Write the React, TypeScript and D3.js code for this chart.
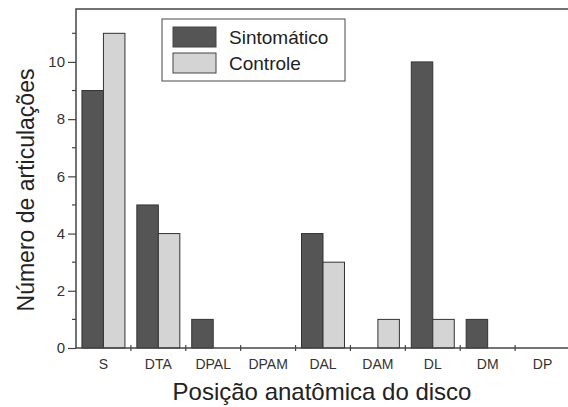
import React, { useEffect, useRef } from "react";
import * as d3 from "d3";

const categories = ["S", "DTA", "DPAL", "DPAM", "DAL", "DAM", "DL", "DM", "DP"];
const series = ["Sintomático", "Controle"];
const sintomatico = [9, 5, 1, 0, 4, 0, 10, 1, 0];
const controle = [11, 4, 0, 0, 3, 1, 1, 0, 0];
const yTicks = [0, 2, 4, 6, 8, 10];
const yMinorTicks = [1, 3, 5, 7, 9, 11];

const colors: Record<string, string> = { "Sintomático": "#555555", Controle: "#d4d4d4" };
const FONT = "'Liberation Sans', Arial, sans-serif";

export default function App() {
  const svgRef = useRef<SVGSVGElement>(null);

  useEffect(() => {
    const svg = d3.select(svgRef.current);
    svg.selectAll("*").remove();

    const left = 76, top = 9, bottom = 348, right = 570;

    const x0 = d3.scaleBand().domain(categories).range([left, right]).paddingInner(0);
    const x1 = d3.scaleBand().domain(series).range([0, x0.bandwidth()]).paddingOuter(0.277);
    const y = d3.scaleLinear().domain([0, 11.85]).range([bottom, top]);

    const rows = categories.map((c, i) => ({ cat: c, values: [sintomatico[i], controle[i]] }));

    // bars
    const g = svg.append("g");
    rows.forEach(r => {
      r.values.forEach((v, j) => {
        if (v <= 0) return;
        g.append("rect")
          .attr("x", x0(r.cat)! + x1(series[j])!)
          .attr("y", y(v))
          .attr("width", x1.bandwidth())
          .attr("height", y(0) - y(v))
          .attr("fill", colors[series[j]])
          .attr("stroke", "#333")
          .attr("stroke-width", 1);
      });
    });

    // frame
    svg.append("path")
      .attr("d", `M${left},${bottom}V${top}H${right}`)
      .attr("fill", "none").attr("stroke", "#444").attr("stroke-width", 1.5);
    svg.append("line")
      .attr("x1", left).attr("x2", right).attr("y1", bottom).attr("y2", bottom)
      .attr("stroke", "#444").attr("stroke-width", 1.5);

    // y axis
    const yAxis = d3.axisLeft(y).tickValues(yTicks).tickSize(8).tickPadding(3).tickFormat(d3.format("d"));
    const ya = svg.append("g").attr("transform", `translate(${left},0)`).call(yAxis);
    ya.select(".domain").remove();
    ya.selectAll("line").attr("stroke", "#444").attr("stroke-width", 1.2);
    ya.selectAll("text").attr("font-family", FONT).attr("font-size", 15).attr("fill", "#333");
    svg.append("g").selectAll("line").data(yMinorTicks).join("line")
      .attr("x1", left - 4).attr("x2", left).attr("y1", d => y(d)).attr("y2", d => y(d))
      .attr("stroke", "#444").attr("stroke-width", 1.2);

    // x axis ticks at band boundaries
    const bounds = categories.slice(1).map(c => x0(c)!);
    svg.append("g").selectAll("line").data(bounds).join("line")
      .attr("x1", d => d).attr("x2", d => d).attr("y1", bottom - 3).attr("y2", bottom + 3)
      .attr("stroke", "#444").attr("stroke-width", 1.2);
    svg.append("g").selectAll("text").data(categories).join("text")
      .attr("x", d => x0(d)! + x0.bandwidth() / 2)
      .attr("y", bottom + 21)
      .attr("text-anchor", "middle")
      .attr("font-family", FONT).attr("font-size", 14).attr("fill", "#333")
      .text(d => d);

    // axis titles
    svg.append("text")
      .attr("x", 322).attr("y", 400)
      .attr("text-anchor", "middle")
      .attr("font-family", FONT).attr("font-size", 24).attr("fill", "#222")
      .text("Posição anatômica do disco");
    svg.append("text")
      .attr("transform", `translate(34,190) rotate(-90)`)
      .attr("text-anchor", "middle")
      .attr("font-family", FONT).attr("font-size", 23).attr("fill", "#222")
      .text("Número de articulações");

    // legend
    const lg = svg.append("g").attr("transform", "translate(162,19)");
    lg.append("rect").attr("width", 183).attr("height", 62)
      .attr("fill", "white").attr("stroke", "#666").attr("stroke-width", 1.2);
    series.forEach((s, i) => {
      lg.append("rect").attr("x", 11).attr("y", 8 + i * 26).attr("width", 43).attr("height", 20)
        .attr("fill", colors[s]).attr("stroke", "#444");
      lg.append("text").attr("x", 67).attr("y", 25 + i * 26)
        .attr("font-family", FONT).attr("font-size", 19).attr("fill", "#222")
        .text(s);
    });
  }, []);

  return (
    <svg ref={svgRef} width={568} height={407}
      style={{ position: "absolute", left: 0, top: 0, background: "white" }} />
  );
}
